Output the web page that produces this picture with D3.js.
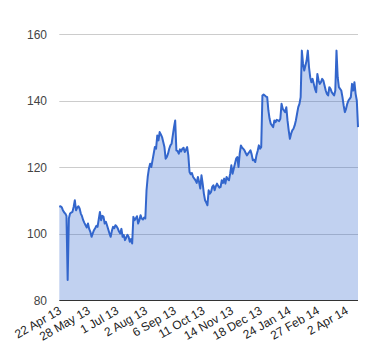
<!DOCTYPE html>
<html>
<head>
<meta charset="utf-8">
<script src="https://cdn.jsdelivr.net/npm/d3@7"></script>
<style>
  html, body { margin: 0; padding: 0; background: #fff; }
  svg { display: block; font-family: Arial, "Liberation Sans", sans-serif; }
</style>
</head>
<body>
<svg id="chart" width="380" height="360"></svg>
<script>
// Tick labels on the category axis (one every 24 trading days)
const xTickLabels = ["22 Apr 13", "28 May 13", "1 Jul 13", "2 Aug 13", "6 Sep 13", "11 Oct 13",
                     "14 Nov 13", "18 Dec 13", "24 Jan 14", "27 Feb 14", "2 Apr 14"];
const labelEvery = 24;
const yTicks = [80, 100, 120, 140, 160];

// Daily closing values (trading days)
const values = [
  108, 108.2, 107.9, 107, 106.4, 106, 105.3, 86, 104.5, 106,
  106.3, 106.5, 108, 110, 107, 107.8, 108.2, 107.5, 106, 105.2,
  104, 103.2, 102.5, 101.8, 103, 101.4, 100.5, 99, 100, 101,
  101.6, 102.3, 102, 104.2, 106.5, 104, 105.3, 105, 103, 103.5,
  102.4, 101.2, 100, 99, 100.8, 102, 101.6, 102.5, 102.1, 101.5,
  100.6, 100, 101.4, 99, 99.5, 98, 98.8, 99.6, 99, 97.5,
  98.3, 97, 105, 104, 104.5, 105.2, 103, 104, 105.5, 104.5,
  104.2, 104.8, 104.5, 113, 117, 119.5, 121, 120, 122, 124,
  126, 125.5, 129.5, 128, 130.5, 129.8, 129, 127.5, 126, 122.5,
  123, 124, 125.5, 126.5, 127, 129.5, 132, 134, 125, 124.8,
  124, 125.3, 124.7, 125.5, 125.8, 124.5, 125.2, 126, 123.5, 118.5,
  117.8, 118.2, 117, 116.5, 116, 115.2, 117, 115.5, 113.5, 117.5,
  115, 112, 110, 109.3, 108.5, 113, 112, 112.5, 114, 114.5,
  113, 114.2, 115, 114.3, 113.8, 114, 116, 115.2, 116.5, 115,
  117, 116.3, 116, 118, 120.5, 118, 119.5, 121, 122.5, 123,
  120, 124, 126.5, 125.8, 125.5, 125, 124.2, 123.5, 124, 124.5,
  125, 123.8, 122, 122.2, 121.5, 123.5, 124.8, 126.5, 125.5, 126,
  141.5, 141.8, 141.5, 141.2, 141, 137, 134.5, 133, 132.5, 132,
  134, 133.5, 134.2, 134, 133.8, 134.5, 139, 137.5, 137, 136.5,
  138, 134, 131, 128.5, 130, 131, 131.5, 132.5, 134, 136,
  138, 139, 141, 155, 151, 149, 150.5, 152, 155, 150,
  147, 145.5, 146.5, 145, 143.5, 142.5, 148, 146, 145, 145.5,
  146.5, 146, 144.5, 143, 142, 141.5, 144, 143.5, 142.5, 142,
  141.5, 143, 155, 147, 144, 143.5, 143, 141, 138.5, 136.5,
  137.5, 139, 140, 140.5, 141, 145, 143, 145.5, 142, 140,
  132
];

const svg = d3.select("#chart");
const margin = { left: 59.3, right: 22, top: 34, bottom: 60 };
const W = 380, H = 360;

const x = d3.scaleLinear().domain([0, values.length - 1]).range([margin.left, W - margin.right]);
const y = d3.scaleLinear().domain([80, 160]).range([H - margin.bottom, margin.top]);

// gridlines
svg.append("g").selectAll("line").data(yTicks.filter(d => d !== 80)).join("line")
  .attr("x1", margin.left).attr("x2", W - margin.right)
  .attr("y1", d => Math.round(y(d)) + 0.5).attr("y2", d => Math.round(y(d)) + 0.5)
  .attr("stroke", "#cccccc").attr("stroke-width", 1);

// y labels
svg.append("g").selectAll("text").data(yTicks).join("text")
  .attr("x", 47).attr("y", d => y(d) + 4.5)
  .attr("text-anchor", "end").attr("font-size", 12).attr("fill", "#444444")
  .text(d => d);

// area
const area = d3.area().x((d, i) => x(i)).y0(y(80)).y1(d => y(d));
svg.append("path").datum(values).attr("d", area)
  .attr("fill", "#3366cc").attr("fill-opacity", 0.3);

// line
const line = d3.line().x((d, i) => x(i)).y(d => y(d));
svg.append("path").datum(values).attr("d", line)
  .attr("fill", "none").attr("stroke", "#3366cc").attr("stroke-width", 2)
  .attr("stroke-linejoin", "round");

// baseline
svg.append("line")
  .attr("x1", margin.left).attr("x2", W - margin.right)
  .attr("y1", Math.round(y(80)) + 0.5).attr("y2", Math.round(y(80)) + 0.5)
  .attr("stroke", "#333333").attr("stroke-width", 1);

// x labels
svg.append("g").selectAll("text").data(xTickLabels).join("text")
  .attr("transform", (d, i) => `translate(${x(i * labelEvery) + 3},${y(80) + 13}) rotate(-30)`)
  .attr("text-anchor", "end").attr("font-size", 12).attr("fill", "#222222")
  .text(d => d);
</script>
</body>
</html>
